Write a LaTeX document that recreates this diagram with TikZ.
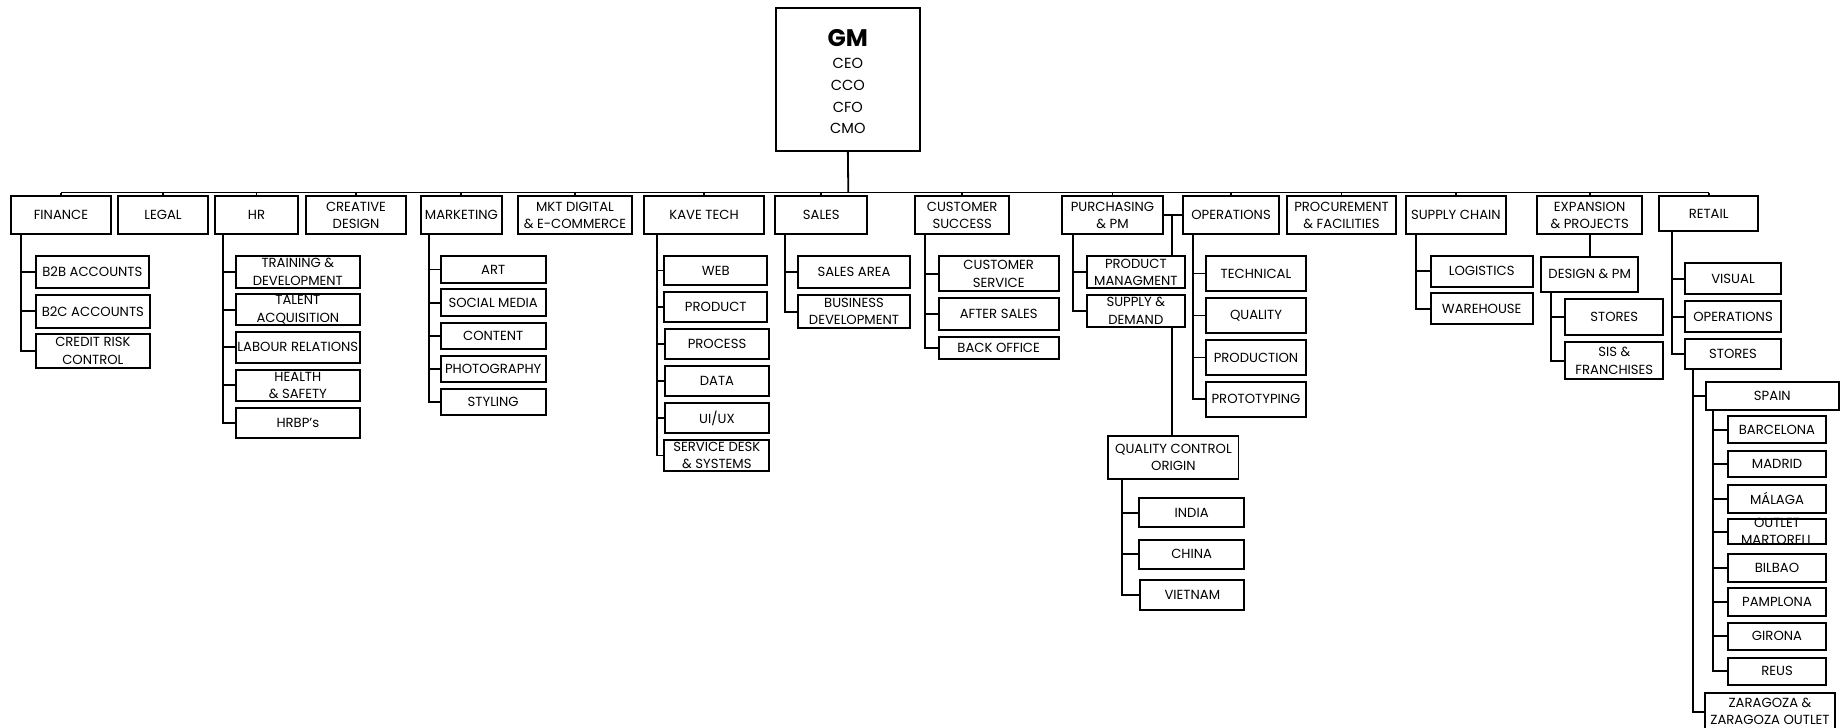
\documentclass[tikz,border=0pt]{standalone}
\usepackage{fontspec}
\setmainfont{Poppins}
\begin{document}
\begin{tikzpicture}[x=1pt,y=-1pt]
\tikzset{
  bx/.style={draw, line width=1.7pt, inner sep=0pt, outer sep=0pt},
  txt/.style={align=center, font=\fontsize{13.2}{17.3}\selectfont, inner sep=0pt},
  ln/.style={line width=1.8pt},
}
\newcommand\bx[6]{%
  \node[bx, minimum width={#4pt-#2pt}, minimum height={#5pt-#3pt}] (#1) at ({(#2+#4)/2},{(#3+#5)/2}) {};
  \node[txt] (#1-t) at (#1.center) {#6};}
\newcommand\grp[3]{\foreach \kid in {#3}{\draw[ln] ([xshift=#2pt]#1.south west) |- (\kid.west);}}
\useasboundingbox (0,0) rectangle (1842,728);
\fill[white] (0,0) rectangle (1842,728);

% GM
\node[bx, minimum width=144.3pt, minimum height=142.4pt] (gm) at (847.85,79.5) {};
\node[align=center, inner sep=0pt, font=\fontsize{14.6}{21.7}\selectfont] (gm-t) at (847.85,81.5) {{\fontsize{24}{26}\selectfont\bfseries GM}\\[1pt]CEO\\CCO\\CFO\\CMO};

% top level
\bx{fin}{11}{196}{111}{234.3}{FINANCE}
\bx{leg}{118}{196}{208}{234.3}{LEGAL}
\bx{hr}{215}{196}{298}{234.3}{HR}
\bx{cd}{306}{196}{406}{234.3}{CREATIVE\\DESIGN}
\bx{mkt}{420.7}{196}{502}{234.3}{MARKETING}
\bx{mkd}{517.7}{196}{632.3}{234.3}{MKT DIGITAL\\\& E-COMMERCE}
\bx{kt}{644.3}{196}{763.7}{234.3}{KAVE TECH}
\bx{sal}{775.3}{196}{867.3}{234.3}{SALES}
\bx{cs}{915.3}{196}{1009}{234.3}{CUSTOMER\\SUCCESS}
\bx{pur}{1061.7}{196}{1163.3}{234.3}{PURCHASING\\\& PM}
\bx{ops}{1182.7}{196}{1279.3}{234.3}{OPERATIONS}
\bx{pf}{1287}{196}{1396}{234.3}{PROCUREMENT\\\& FACILITIES}
\bx{sc}{1405.7}{196}{1506}{234.3}{SUPPLY CHAIN}
\bx{exp}{1537.3}{196}{1642}{234.3}{EXPANSION\\\& PROJECTS}
\bx{ret}{1659.3}{196}{1758}{231}{RETAIL}

% finance
\bx{b2b}{36}{256}{148.7}{288.3}{B2B ACCOUNTS}
\bx{b2c}{36}{295}{149.7}{327.7}{B2C ACCOUNTS}
\bx{crc}{36}{334.3}{149.7}{367.7}{CREDIT RISK\\CONTROL}
% hr
\bx{td}{235.7}{256}{360}{287.7}{TRAINING \&\\DEVELOPMENT}
\bx{ta}{235.7}{294}{360}{325.3}{TALENT\\ACQUISITION}
\bx{lr}{235.7}{331.7}{360}{363}{LABOUR RELATIONS}
\bx{hs}{235.7}{369.7}{360}{400.7}{HEALTH\\\& SAFETY}
\bx{hrbp}{235.7}{407.7}{360}{437.7}{HRBP's}
% marketing
\bx{art}{440.7}{256.3}{545.7}{282.7}{ART}
\bx{sm}{440.7}{289.3}{545.7}{316}{SOCIAL MEDIA}
\bx{con}{440.7}{322.7}{545.7}{349.3}{CONTENT}
\bx{pho}{440.7}{355.7}{545.7}{382.3}{PHOTOGRAPHY}
\bx{sty}{440.7}{388.7}{545.7}{415.3}{STYLING}
% kave tech
\bx{web}{664.3}{255.7}{767.3}{285.3}{WEB}
\bx{prod}{664.3}{292.3}{767.3}{322.3}{PRODUCT}
\bx{proc}{665.3}{329.3}{768.7}{359.3}{PROCESS}
\bx{data}{665.3}{366.3}{768.7}{396.3}{DATA}
\bx{uiux}{665.3}{403.3}{768.7}{433.3}{UI/UX}
\bx{sds}{664.3}{440}{769.3}{471}{SERVICE DESK\\\& SYSTEMS}
% sales
\bx{sa}{798.3}{256}{909.7}{288.3}{SALES AREA}
\bx{bd}{798.3}{295}{909.7}{328.3}{BUSINESS\\DEVELOPMENT}
% customer success
\bx{csv}{938.7}{256.3}{1058.7}{291.3}{CUSTOMER\\SERVICE}
\bx{as}{938.7}{298}{1058.7}{330.3}{AFTER SALES}
\bx{bo}{938.7}{337.3}{1058.7}{358.7}{BACK OFFICE}
% purchasing
\bx{pmg}{1086.7}{256}{1185}{288.3}{PRODUCT\\MANAGMENT}
\bx{sd}{1086.7}{294.7}{1185}{326.7}{SUPPLY \&\\DEMAND}
\bx{qc}{1108.3}{435.7}{1238.5}{479}{QUALITY CONTROL\\ORIGIN}
\bx{ind}{1139.3}{498.3}{1244}{527.3}{INDIA}
\bx{chi}{1139.3}{539.7}{1244}{569}{CHINA}
\bx{vie}{1140.3}{580.3}{1244.3}{610}{VIETNAM}
% operations
\bx{tec}{1206.3}{256}{1305.7}{291}{TECHNICAL}
\bx{qua}{1206.3}{298}{1305.7}{333}{QUALITY}
\bx{pro}{1206.3}{340}{1305.7}{375}{PRODUCTION}
\bx{ptt}{1206.3}{381.7}{1305.7}{417}{PROTOTYPING}
% supply chain
\bx{log}{1430.7}{256}{1532.7}{286.7}{LOGISTICS}
\bx{wh}{1430.7}{293.3}{1532.7}{324}{WAREHOUSE}
% expansion
\bx{dpm}{1541}{256.7}{1638.3}{292}{DESIGN \& PM}
\bx{st1}{1565.3}{299}{1663.3}{335.3}{STORES}
\bx{sis}{1565.3}{342.3}{1663.3}{379.3}{SIS \&\\FRANCHISES}
% retail
\bx{vis}{1685.3}{263.3}{1780.7}{294.3}{VISUAL}
\bx{rop}{1685.3}{301.3}{1780.7}{332.3}{OPERATIONS}
\bx{rst}{1685.3}{338.7}{1780.7}{369.3}{STORES}
\bx{spa}{1706}{382.3}{1838.7}{410}{SPAIN}
\bx{bar}{1728.3}{416}{1825.7}{443.3}{BARCELONA}
\bx{mad}{1728.3}{450.7}{1825.7}{477.3}{MADRID}
\bx{mal}{1728.3}{485}{1825.7}{512.7}{MÁLAGA}
\bx{om}{1728.3}{519.3}{1825.7}{544}{OUTLET\\MARTORELL}
\bx{bil}{1728.3}{554.3}{1825.7}{581.7}{BILBAO}
\bx{pam}{1728.3}{588.3}{1825.7}{615.7}{PAMPLONA}
\bx{gir}{1728.3}{622.7}{1825.7}{650}{GIRONA}
\bx{reu}{1728.3}{657.7}{1825.7}{685}{REUS}
\bx{zar}{1705}{693.3}{1835}{730}{ZARAGOZA \&\\ZARAGOZA OUTLET}

% bus
\coordinate (bus) at (848.3,192.5);
\draw[ln] (gm.south) -- (bus);
\draw[ln] (fin.north |- bus) -- (ret.north |- bus);
\foreach \n in {fin,leg,hr,cd,mkt,mkd,kt,sal,cs,pur,ops,pf,sc,exp,ret}
  \draw[ln] (\n.north) -- (\n.north |- bus);

% groups
\grp{fin}{10}{b2b,b2c,crc}
\grp{hr}{8.3}{td,ta,lr,hs,hrbp}
\grp{mkt}{8.3}{art,sm,con,pho,sty}
\grp{kt}{12.4}{web,prod,proc,data,uiux,sds}
\grp{sal}{9.7}{sa,bd}
\grp{cs}{9.4}{csv,as,bo}
\grp{pur}{11}{pmg,sd}
\grp{qc}{14}{ind,chi,vie}
\grp{ops}{10}{tec,qua,pro,ptt}
\grp{sc}{10}{log,wh}
\grp{dpm}{9.7}{st1,sis}
\grp{ret}{13}{vis,rop,rst}
\grp{rst}{8}{spa,zar}
\grp{spa}{6.7}{bar,mad,mal,om,bil,pam,gir,reu}

% special links
\draw[ln] (pur.east) -- (ops.west);
\coordinate (pj) at (1171.7,215.15);
\draw[ln] (pj) -- (pj |- pmg.north);
\coordinate (sdq) at ([xshift=-12.7pt]sd.south east);
\draw[ln] (sdq) -- (sdq |- qc.north);
\draw[ln] (exp.south) -- (dpm.north);
\end{tikzpicture}
\end{document}
